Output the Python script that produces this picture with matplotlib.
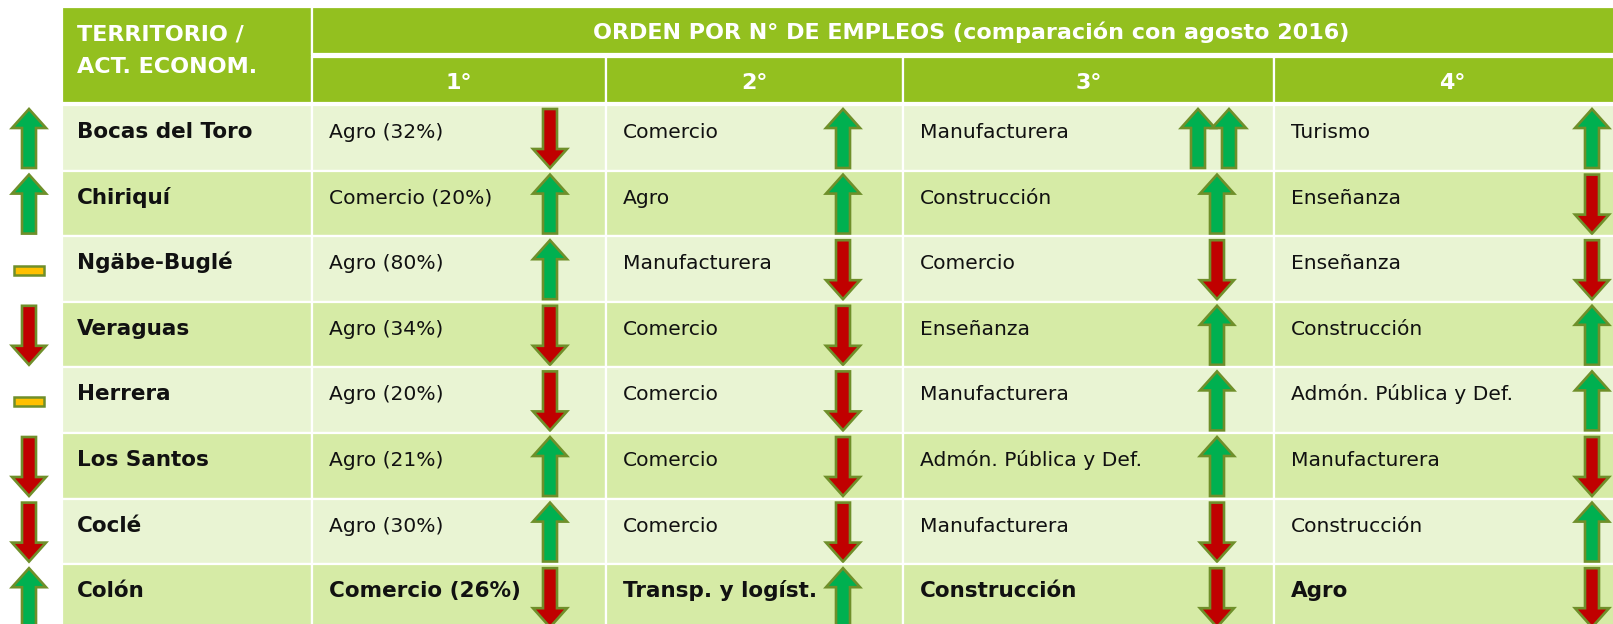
import matplotlib
matplotlib.use("Agg")
import matplotlib.pyplot as plt
from matplotlib.patches import Polygon, Rectangle

# ---- data -------------------------------------------------------------
territorios = ['Bocas del Toro', 'Chiriquí', 'Ngäbe-Buglé', 'Veraguas',
               'Herrera', 'Los Santos', 'Coclé', 'Colón']
tend_territorio = ['up', 'up', 'flat', 'down', 'flat', 'down', 'down', 'up']

rango_1 = ['Agro (32%)', 'Comercio (20%)', 'Agro (80%)', 'Agro (34%)',
           'Agro (20%)', 'Agro (21%)', 'Agro (30%)', 'Comercio (26%)']
rango_2 = ['Comercio', 'Agro', 'Manufacturera', 'Comercio',
           'Comercio', 'Comercio', 'Comercio', 'Transp. y logíst.']
rango_3 = ['Manufacturera', 'Construcción', 'Comercio', 'Enseñanza',
           'Manufacturera', 'Admón. Pública y Def.', 'Manufacturera', 'Construcción']
rango_4 = ['Turismo', 'Enseñanza', 'Enseñanza', 'Construcción',
           'Admón. Pública y Def.', 'Manufacturera', 'Construcción', 'Agro']

tend_1 = ['down', 'up', 'up', 'down', 'down', 'up', 'up', 'down']
tend_2 = ['up', 'up', 'down', 'down', 'down', 'down', 'down', 'up']
tend_3 = ['up2', 'up', 'down', 'up', 'up', 'up', 'down', 'down']
tend_4 = ['up', 'down', 'down', 'up', 'up', 'down', 'up', 'down']

encabezados = ['1°', '2°', '3°', '4°']
titulo = 'ORDEN POR N° DE EMPLEOS (comparación con agosto 2016)'
fila_resaltada = 'Colón'

# ---- style ------------------------------------------------------------
HEADER = '#93C01F'
ROW_LIGHT = '#E9F4D3'
ROW_DARK = '#D6EBA6'
UP = '#00B050'
DOWN = '#C00000'
FLAT = '#FFC000'
OUTLINE = '#6F8F2A'

W, H = 1613, 624
col_edges = [62, 312, 606, 903, 1274, 1630]
data_top = 105
row_h = 65.6
arrow_x = [29, 550, 843, 1217, 1592]

plt.rcParams['font.family'] = ['DejaVu Sans']

fig = plt.figure(figsize=(W / 100, H / 100), dpi=100)
ax = fig.add_axes([0, 0, 1, 1])
ax.set_xlim(0, W)
ax.set_ylim(H, 0)
ax.axis('off')


def cell(x0, y0, x1, y1, color):
    ax.add_patch(Rectangle((x0, y0), x1 - x0, y1 - y0, facecolor=color,
                           edgecolor='white', linewidth=1.6))


def arrow(xc, y0, y1, kind):
    head, hw, sw = 19, 17, 7
    if kind == 'flat':
        yc = y0 + 30
        ax.add_patch(Rectangle((xc - 15, yc - 4.5), 30, 9, facecolor=FLAT,
                               edgecolor=OUTLINE, linewidth=1.8))
        return
    if kind.startswith('up'):
        pts = [(xc, y0), (xc + hw, y0 + head), (xc + sw, y0 + head), (xc + sw, y1),
               (xc - sw, y1), (xc - sw, y0 + head), (xc - hw, y0 + head)]
        fill = UP
    else:
        pts = [(xc, y1), (xc + hw, y1 - head), (xc + sw, y1 - head), (xc + sw, y0),
               (xc - sw, y0), (xc - sw, y1 - head), (xc - hw, y1 - head)]
        fill = DOWN
    ax.add_patch(Polygon(pts, closed=True, facecolor=fill, edgecolor=OUTLINE,
                         linewidth=1.9, joinstyle='miter'))


# header
cell(col_edges[0], 7, col_edges[1], 103, HEADER)
cell(col_edges[1], 7, col_edges[-1], 54, HEADER)
for i, lab in enumerate(encabezados):
    x0, x1 = col_edges[i + 1], col_edges[i + 2]
    cell(x0, 56.5, x1, 103, HEADER)
    ax.text((x0 + x1) / 2, 89, lab, color='white', fontsize=16, fontweight='bold',
            ha='center', va='baseline')
ax.text(77, 40, 'TERRITORIO /', color='white', fontsize=16, fontweight='bold',
        ha='left', va='baseline')
ax.text(77, 73, 'ACT. ECONOM.', color='white', fontsize=16, fontweight='bold',
        ha='left', va='baseline')
ax.text((col_edges[1] + col_edges[-1]) / 2, 39, titulo, color='white', fontsize=16,
        fontweight='bold', ha='center', va='baseline')

# body
columnas = [rango_1, rango_2, rango_3, rango_4]
tendencias = [tend_1, tend_2, tend_3, tend_4]
for r, terr in enumerate(territorios):
    top = data_top + r * row_h
    bot = top + row_h
    color = ROW_LIGHT if r % 2 == 0 else ROW_DARK
    bold = terr == fila_resaltada
    for c in range(5):
        cell(col_edges[c], top, col_edges[c + 1], bot, color)
    ax.text(col_edges[0] + 15, top + 33, terr, fontsize=15.5, fontweight='bold',
            color='#111111', ha='left', va='baseline')
    for c in range(4):
        ax.text(col_edges[c + 1] + 17, top + 33, columnas[c][r],
                fontsize=15.5 if bold else 14.6,
                fontweight='bold' if bold else 'normal',
                color='#111111', ha='left', va='baseline')

    # trend arrows
    arrow(arrow_x[0], top + 4, top + 63, tend_territorio[r])
    for c in range(4):
        kind = tendencias[c][r]
        if kind == 'up2':
            arrow(arrow_x[c + 1] - 19, top + 4, top + 63, 'up')
            arrow(arrow_x[c + 1] + 12, top + 4, top + 63, 'up')
        else:
            arrow(arrow_x[c + 1], top + 4, top + 63, kind)

fig.savefig('out.png', dpi=100)
